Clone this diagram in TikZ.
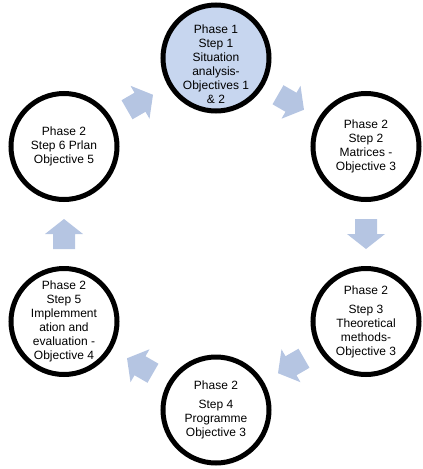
\documentclass[tikz,border=0pt]{standalone}
\usepackage{fontspec}
\setmainfont{Liberation Sans}
\usetikzlibrary{calc}
\definecolor{arrowblue}{RGB}{181,197,226}
\definecolor{topfill}{RGB}{199,214,239}
\begin{document}
\begin{tikzpicture}[x=1pt,y=-1pt,
  stepcircle/.style={circle,draw=black,line width=5pt,minimum size=106pt,inner sep=0pt,fill=white},
  steptext/.style={align=center,font=\fontsize{12}{14}\selectfont,inner sep=0pt},
  barrow/.pic={\fill[arrowblue] (-15,-11) -- (0,-11) -- (0,-19) -- (15,0) -- (0,19) -- (0,11) -- (-15,11) -- cycle;}]
\useasboundingbox (0,0) rectangle (423,469);
% circles
\node[stepcircle,fill=topfill] (s1) at (216,58) {};
\node[stepcircle] (s2) at (366,146.5) {};
\node[stepcircle] (s3) at (366,321.5) {};
\node[stepcircle] (s4) at (216,410) {};
\node[stepcircle] (s5) at (64,321.5) {};
\node[stepcircle] (s6) at (64,146.5) {};
% texts
\node[steptext,yshift=-6pt] (t1) at (s1) {Phase 1\\Step 1\\Situation\\analysis-\\Objectives 1\\\& 2};
\node[steptext] (t2) at (s2) {Phase 2\\Step 2\\Matrices -\\Objective 3};
\node[steptext] (t3) at (s3) {Phase 2\\[5pt]Step 3\\Theoretical\\methods-\\Objective 3};
\node[steptext] (t4) at (s4) {Phase 2\\[5pt]Step 4\\Programme\\Objective 3};
\node[steptext] (t5) at (s5) {Phase 2\\Step 5\\Implemment\\ation and\\evaluation -\\Objective 4};
\node[steptext] (t6) at (s6) {Phase 2\\Step 6 Prlan\\Objective 5};
% block arrows
\pic[rotate=-30] (a12) at ($(s1)!0.5!(s2)$) {barrow};
\pic[rotate=-90] (a23) at ($(s2)!0.5!(s3)$) {barrow};
\pic[rotate=210] (a34) at ($(s3)!0.5!(s4)$) {barrow};
\pic[rotate=150] (a45) at ($(s4)!0.5!(s5)$) {barrow};
\pic[rotate=90] (a56) at ($(s5)!0.5!(s6)$) {barrow};
\pic[rotate=30] (a61) at ($(s6)!0.5!(s1)$) {barrow};
\end{tikzpicture}
\end{document}
